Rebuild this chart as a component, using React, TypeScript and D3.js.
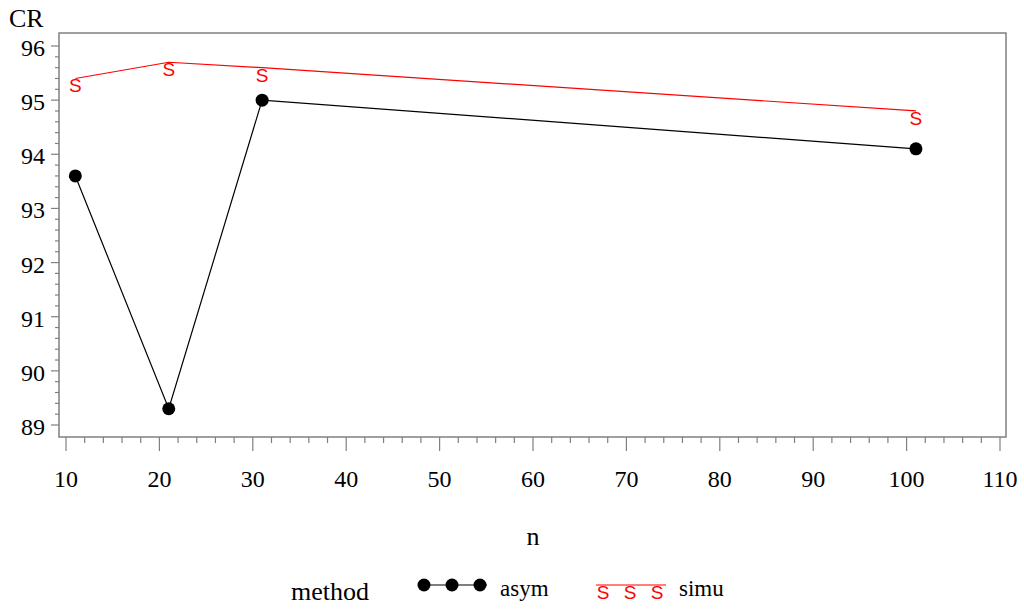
import React, { useEffect, useRef } from "react";
import * as d3 from "d3";

const nValues = [11, 21, 31, 101];
const asym = [93.6, 89.3, 95.0, 94.1];
const simu = [95.4, 95.7, 95.6, 94.8];
const xTicks = [10, 20, 30, 40, 50, 60, 70, 80, 90, 100, 110];
const yTicks = [89, 90, 91, 92, 93, 94, 95, 96];

const App = () => {
  const svgRef = useRef<SVGSVGElement | null>(null);

  useEffect(() => {
    const width = 1024;
    const height = 611;
    const svg = d3.select(svgRef.current).attr("width", width).attr("height", height);
    svg.selectAll("*").remove();

    const font = "'Liberation Serif', 'Times New Roman', serif";
    const symFont = "'Liberation Sans', Arial, sans-serif";
    const frame = { left: 59, right: 1006, top: 33, bottom: 437 };

    const x = d3.scaleLinear().domain([10, 110]).range([66, 1000]);
    const y = d3.scaleLinear().domain([89, 96]).range([425, 46]);

    svg.append("rect").attr("width", width).attr("height", height).attr("fill", "white");

    // frame
    svg
      .append("rect")
      .attr("x", frame.left)
      .attr("y", frame.top)
      .attr("width", frame.right - frame.left)
      .attr("height", frame.bottom - frame.top)
      .attr("fill", "none")
      .attr("stroke", "#808080")
      .attr("stroke-width", 1.5);

    // y axis ticks
    const yMinor = d3.range(89, 96.01, 0.2);
    svg
      .append("g")
      .selectAll("line")
      .data(yMinor)
      .enter()
      .append("line")
      .attr("x1", frame.left)
      .attr("x2", (d) => (Math.abs(d - Math.round(d)) < 0.01 ? frame.left - 8 : frame.left - 4))
      .attr("y1", (d) => y(d))
      .attr("y2", (d) => y(d))
      .attr("stroke", "#808080")
      .attr("stroke-width", 1.2);

    svg
      .append("g")
      .selectAll("text")
      .data(yTicks)
      .enter()
      .append("text")
      .attr("x", 45)
      .attr("y", (d) => y(d) + 10)
      .attr("text-anchor", "end")
      .style("font-family", font)
      .style("font-size", "24px")
      .text((d) => d);

    // x axis ticks
    const xMinor = d3.range(10, 110.01, 2);
    svg
      .append("g")
      .selectAll("line")
      .data(xMinor)
      .enter()
      .append("line")
      .attr("x1", (d) => x(d))
      .attr("x2", (d) => x(d))
      .attr("y1", frame.bottom)
      .attr("y2", (d) => (d % 10 === 0 ? frame.bottom + 14 : frame.bottom + 6))
      .attr("stroke", "#808080")
      .attr("stroke-width", 1.2);

    svg
      .append("g")
      .selectAll("text")
      .data(xTicks)
      .enter()
      .append("text")
      .attr("x", (d) => x(d))
      .attr("y", 487)
      .attr("text-anchor", "middle")
      .style("font-family", font)
      .style("font-size", "24px")
      .text((d) => d);

    // axis titles
    svg
      .append("text")
      .attr("x", 9)
      .attr("y", 27)
      .style("font-family", font)
      .style("font-size", "26px")
      .text("CR");

    svg
      .append("text")
      .attr("x", 533)
      .attr("y", 545)
      .attr("text-anchor", "middle")
      .style("font-family", font)
      .style("font-size", "26px")
      .text("n");

    const line = d3
      .line<number>()
      .x((_, i) => x(nValues[i]))
      .y((d) => y(d));

    // simu series
    svg
      .append("path")
      .attr("d", line(simu))
      .attr("fill", "none")
      .attr("stroke", "#ff0000")
      .attr("stroke-width", 1.2);

    svg
      .append("g")
      .selectAll("text")
      .data(simu)
      .enter()
      .append("text")
      .attr("x", (_, i) => x(nValues[i]))
      .attr("y", (d) => y(d) + 14)
      .attr("text-anchor", "middle")
      .attr("fill", "#ff0000")
      .style("font-family", symFont)
      .style("font-size", "19px")
      .text("S");

    // asym series
    svg
      .append("path")
      .attr("d", line(asym))
      .attr("fill", "none")
      .attr("stroke", "black")
      .attr("stroke-width", 1.2);

    svg
      .append("g")
      .selectAll("circle")
      .data(asym)
      .enter()
      .append("circle")
      .attr("cx", (_, i) => x(nValues[i]))
      .attr("cy", (d) => y(d))
      .attr("r", 6.5)
      .attr("fill", "black");

    // legend
    const ly = 585;
    svg
      .append("text")
      .attr("x", 291)
      .attr("y", 600)
      .style("font-family", font)
      .style("font-size", "26px")
      .text("method");

    svg
      .append("line")
      .attr("x1", 418)
      .attr("x2", 487)
      .attr("y1", ly)
      .attr("y2", ly)
      .attr("stroke", "black")
      .attr("stroke-width", 1.2);
    svg
      .append("g")
      .selectAll("circle")
      .data([424, 452, 480])
      .enter()
      .append("circle")
      .attr("cx", (d) => d)
      .attr("cy", ly)
      .attr("r", 6.5)
      .attr("fill", "black");
    svg
      .append("text")
      .attr("x", 500)
      .attr("y", 596)
      .style("font-family", font)
      .style("font-size", "23px")
      .text("asym");

    svg
      .append("line")
      .attr("x1", 596)
      .attr("x2", 666)
      .attr("y1", ly)
      .attr("y2", ly)
      .attr("stroke", "#ff0000")
      .attr("stroke-width", 1.2);
    svg
      .append("g")
      .selectAll("text")
      .data([603, 630, 657])
      .enter()
      .append("text")
      .attr("x", (d) => d)
      .attr("y", ly + 14)
      .attr("text-anchor", "middle")
      .attr("fill", "#ff0000")
      .style("font-family", symFont)
      .style("font-size", "19px")
      .text("S");
    svg
      .append("text")
      .attr("x", 679)
      .attr("y", 596)
      .style("font-family", font)
      .style("font-size", "23px")
      .text("simu");
  }, []);

  return (
    <div style={{ position: "absolute", left: 0, top: 0 }}>
      <svg ref={svgRef} style={{ display: "block" }}></svg>
    </div>
  );
};

export default App;
